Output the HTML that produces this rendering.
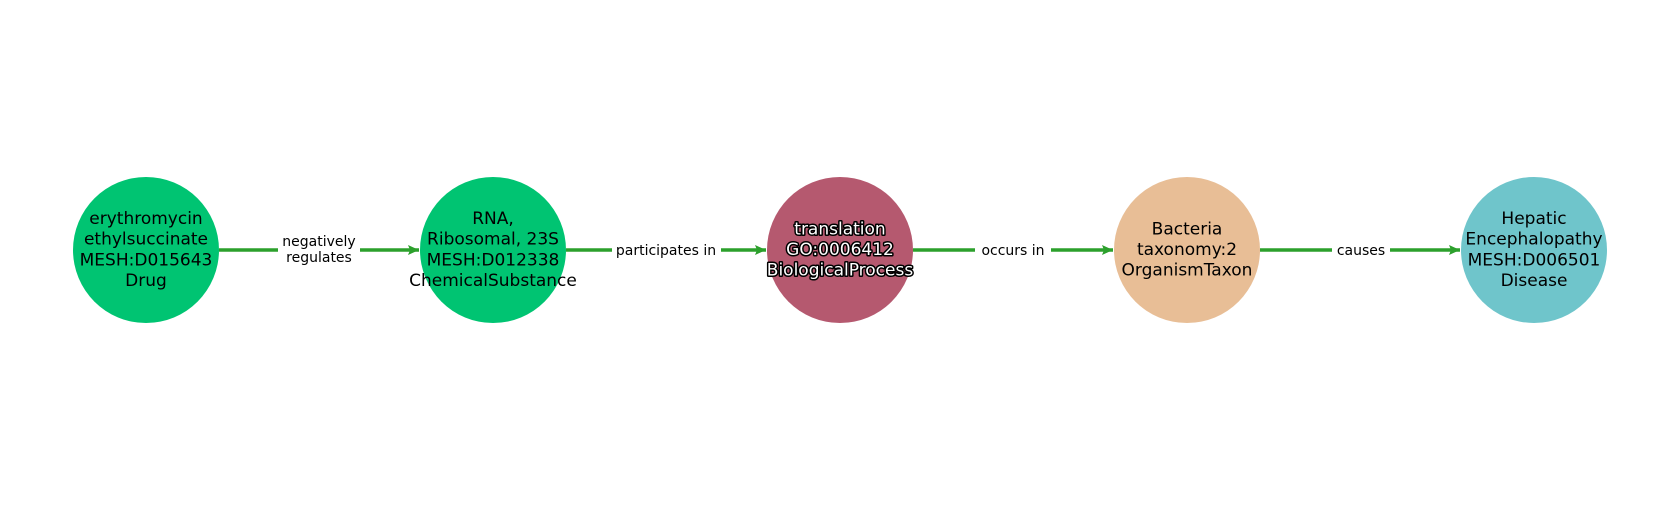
<!DOCTYPE html>
<html><head><meta charset="utf-8"><style>
html,body{margin:0;padding:0;background:#fff;}
svg text{font-family:"DejaVu Sans","Liberation Sans",sans-serif;}
</style></head><body>
<svg width="1680" height="500" viewBox="0 0 1680 500" xmlns="http://www.w3.org/2000/svg">
<defs>
<marker id="ah" markerWidth="12" markerHeight="10" refX="11" refY="5" orient="auto" markerUnits="userSpaceOnUse">
<path d="M0,0 L11,5 L0,10 L2,5 Z" fill="#2ca02c"/>
</marker>
</defs>
<g stroke="#2ca02c" stroke-width="3.5" fill="none">
<line x1="219" y1="250" x2="419" y2="250" marker-end="url(#ah)"/>
<line x1="566" y1="250" x2="766" y2="250" marker-end="url(#ah)"/>
<line x1="913" y1="250" x2="1113" y2="250" marker-end="url(#ah)"/>
<line x1="1260" y1="250" x2="1460" y2="250" marker-end="url(#ah)"/>
</g>
<g fill="#fff">
<rect x="278" y="232" width="82" height="36"/>
<rect x="612" y="241" width="109" height="18"/>
<rect x="975" y="241" width="76" height="18"/>
<rect x="1332" y="241" width="58" height="18"/>
</g>
<g font-size="14" fill="#000" text-anchor="middle">
<text x="319" y="246">negatively</text>
<text x="319" y="262">regulates</text>
<text x="666" y="255">participates in</text>
<text x="1013" y="255">occurs in</text>
<text x="1361" y="255">causes</text>
</g>
<circle cx="146" cy="250" r="73" fill="#00c472"/>
<circle cx="493" cy="250" r="73" fill="#00c472"/>
<circle cx="840" cy="250" r="73" fill="#b5596f"/>
<circle cx="1187" cy="250" r="73" fill="#e8be96"/>
<circle cx="1534" cy="250" r="73" fill="#6fc5cb"/>
<g font-size="17" fill="#000" text-anchor="middle">
<text x="146" y="224">erythromycin</text>
<text x="146" y="244.7">ethylsuccinate</text>
<text x="146" y="265.4">MESH:D015643</text>
<text x="146" y="286">Drug</text>
<text x="493" y="224">RNA,</text>
<text x="493" y="244.7">Ribosomal, 23S</text>
<text x="493" y="265.4">MESH:D012338</text>
<text x="493" y="286">ChemicalSubstance</text>
<text x="1187" y="234.5">Bacteria</text>
<text x="1187" y="255">taxonomy:2</text>
<text x="1187" y="275.5">OrganismTaxon</text>
<text x="1534" y="224">Hepatic</text>
<text x="1534" y="244.7">Encephalopathy</text>
<text x="1534" y="265.4">MESH:D006501</text>
<text x="1534" y="286">Disease</text>
</g>
<g font-size="17" fill="#fff" stroke="#000" stroke-width="3" paint-order="stroke" stroke-linejoin="round" text-anchor="middle">
<text x="840" y="234.5">translation</text>
<text x="840" y="255">GO:0006412</text>
<text x="840" y="275.5">BiologicalProcess</text>
</g>
</svg>
</body></html>
